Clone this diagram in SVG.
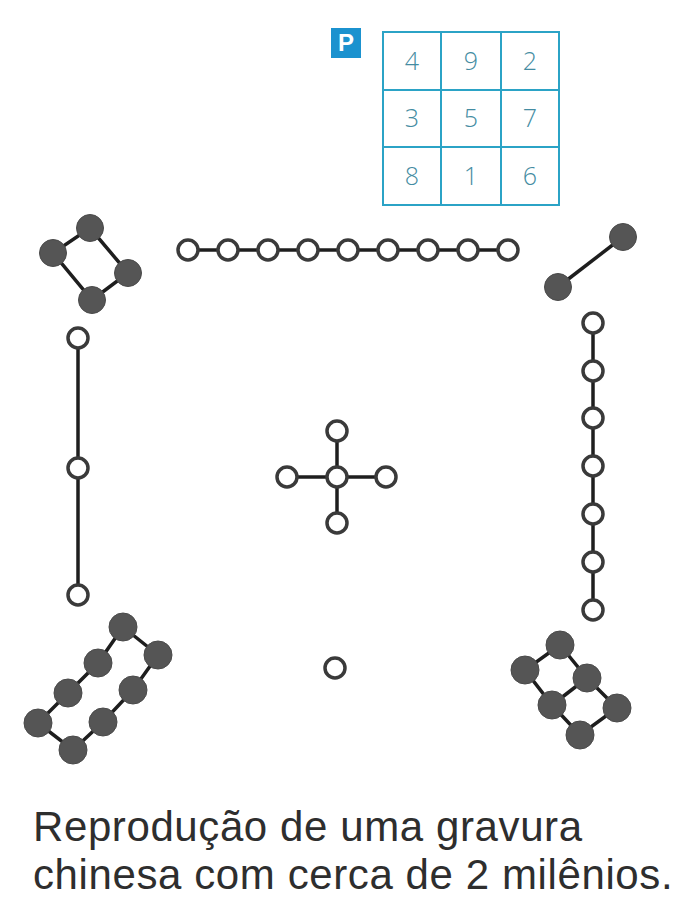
<svg xmlns="http://www.w3.org/2000/svg" width="685" height="899" viewBox="0 0 685 899">
<style>
.grid{fill:none;stroke:#2ba3c6;stroke-width:2}
.dig{font-family:"Open Sans","Liberation Sans",sans-serif;font-size:25px;fill:#448ca2;text-anchor:middle;font-weight:300}
.cap{font-family:"Liberation Sans",Arial,sans-serif;font-size:42px;letter-spacing:0.6px;fill:#2e2e2e}
.lnk{stroke:#1e1e1e;stroke-width:3.5;fill:none}
.o{fill:#fff;stroke:#3a3a3a;stroke-width:3.5}
.d{fill:#555;stroke:#4a4a4a;stroke-width:1}
</style>
<rect width="685" height="899" fill="#fff"/>
<g id="square">
<rect x="331" y="28" width="30" height="30" fill="#1b92cf"/>
<text x="346" y="51" font-family="Liberation Sans,Arial,sans-serif" font-weight="bold" font-size="24" fill="#fff" text-anchor="middle">P</text>
<rect class="grid" x="383" y="32" width="176" height="173"/>
<line class="grid" x1="441" y1="32" x2="441" y2="205"/>
<line class="grid" x1="501" y1="32" x2="501" y2="205"/>
<line class="grid" x1="383" y1="90" x2="559" y2="90"/>
<line class="grid" x1="383" y1="147" x2="559" y2="147"/>
<text class="dig" x="412" y="70">4</text><text class="dig" x="471" y="70">9</text><text class="dig" x="530" y="70">2</text>
<text class="dig" x="412" y="127">3</text><text class="dig" x="471" y="127">5</text><text class="dig" x="530" y="127">7</text>
<text class="dig" x="412" y="185">8</text><text class="dig" x="471" y="185">1</text><text class="dig" x="530" y="185">6</text>
</g>
<g id="connectors">
<polyline class="lnk" points="90,228 128,273 92,300 53,253 90,228"/>
<line class="lnk" x1="188" y1="250" x2="508" y2="250"/>
<line class="lnk" x1="623" y1="237" x2="558" y2="287"/>
<line class="lnk" x1="78" y1="338" x2="78" y2="595"/>
<line class="lnk" x1="287" y1="477" x2="386" y2="477"/>
<line class="lnk" x1="337" y1="431" x2="337" y2="523"/>
<line class="lnk" x1="593" y1="323" x2="593" y2="610"/>
<polyline class="lnk" points="123,627 158,655 133,690 103,722 73,750 38,723 68,693 98,663 123,627"/>
<polyline class="lnk" points="560,645 587,678 617,708 580,735 552,705 525,670 560,645"/>
<line class="lnk" x1="587" y1="678" x2="552" y2="705"/>
</g>
<g id="n1"><circle class="d" cx="90" cy="228" r="13.5"/><circle class="d" cx="53" cy="253" r="13.5"/><circle class="d" cx="128" cy="273" r="13.5"/><circle class="d" cx="92" cy="300" r="13.5"/></g>
<g id="n2">
<circle class="o" cx="188" cy="250" r="10"/><circle class="o" cx="228" cy="250" r="10"/><circle class="o" cx="268" cy="250" r="10"/><circle class="o" cx="308" cy="250" r="10"/><circle class="o" cx="348" cy="250" r="10"/><circle class="o" cx="388" cy="250" r="10"/><circle class="o" cx="428" cy="250" r="10"/><circle class="o" cx="468" cy="250" r="10"/><circle class="o" cx="508" cy="250" r="10"/>
</g>
<g id="n3"><circle class="d" cx="623" cy="237" r="13.5"/><circle class="d" cx="558" cy="287" r="13.5"/></g>
<g id="n4"><circle class="o" cx="78" cy="338" r="10"/><circle class="o" cx="78" cy="468" r="10"/><circle class="o" cx="78" cy="595" r="10"/></g>
<g id="n5"><circle class="o" cx="337" cy="477" r="10"/><circle class="o" cx="337" cy="431" r="10"/><circle class="o" cx="337" cy="523" r="10"/><circle class="o" cx="287" cy="477" r="10"/><circle class="o" cx="386" cy="477" r="10"/></g>
<g id="n6">
<circle class="o" cx="593" cy="323" r="10"/><circle class="o" cx="593" cy="371" r="10"/><circle class="o" cx="593" cy="418" r="10"/><circle class="o" cx="593" cy="466" r="10"/><circle class="o" cx="593" cy="514" r="10"/><circle class="o" cx="593" cy="562" r="10"/><circle class="o" cx="593" cy="610" r="10"/>
</g>
<g id="n7">
<circle class="d" cx="123" cy="627" r="14"/><circle class="d" cx="158" cy="655" r="14"/><circle class="d" cx="98" cy="663" r="14"/><circle class="d" cx="133" cy="690" r="14"/><circle class="d" cx="68" cy="693" r="14"/><circle class="d" cx="103" cy="722" r="14"/><circle class="d" cx="38" cy="723" r="14"/><circle class="d" cx="73" cy="750" r="14"/>
</g>
<g id="n8"><circle class="o" cx="335" cy="668" r="10"/></g>
<g id="n9">
<circle class="d" cx="560" cy="645" r="14"/><circle class="d" cx="525" cy="670" r="14"/><circle class="d" cx="587" cy="678" r="14"/><circle class="d" cx="552" cy="705" r="14"/><circle class="d" cx="617" cy="708" r="14"/><circle class="d" cx="580" cy="735" r="14"/>
</g>
<g id="caption">
<text class="cap" x="33" y="841">Reprodução de uma gravura</text>
<text class="cap" x="33" y="889">chinesa com cerca de 2 milênios.</text>
</g>
</svg>
